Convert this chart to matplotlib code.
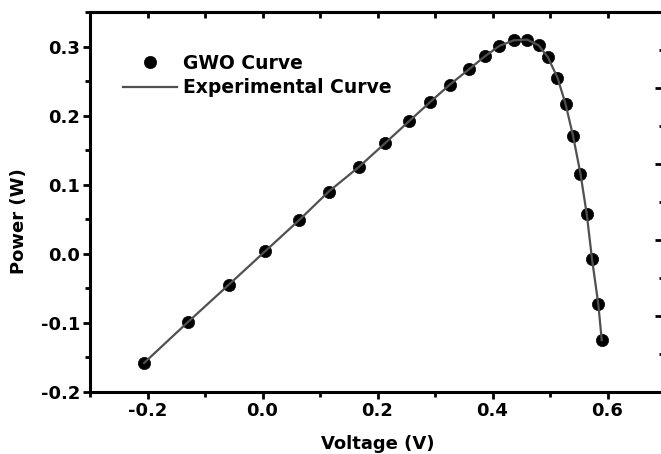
import matplotlib
matplotlib.use("Agg")
import matplotlib.pyplot as plt
from matplotlib.ticker import MultipleLocator
import numpy as np

# P-V data: GWO estimate vs. measured curve
voltage = [-0.206, -0.130, -0.059, 0.005, 0.064, 0.115, 0.168, 0.213, 0.255,
           0.292, 0.326, 0.359, 0.387, 0.412, 0.437, 0.460, 0.480, 0.496,
           0.513, 0.527, 0.540, 0.553, 0.564, 0.573, 0.584, 0.590]
power = [-0.158, -0.099, -0.045, 0.004, 0.049, 0.090, 0.126, 0.160, 0.192,
         0.220, 0.245, 0.267, 0.286, 0.301, 0.309, 0.310, 0.302, 0.285,
         0.255, 0.217, 0.171, 0.116, 0.057, -0.007, -0.073, -0.125]

exp_voltage = voltage
exp_power = power

plt.rcParams["font.family"] = "DejaVu Sans"
plt.rcParams["font.weight"] = "bold"
plt.rcParams["axes.unicode_minus"] = False

fig = plt.figure(figsize=(6.61, 4.54), dpi=100)
ax = fig.add_axes([90 / 661, 62 / 454, 575 / 661, 380 / 454])

ax.plot(voltage, power, "o", color="black", markersize=8.8, markeredgewidth=0.5,
        label="GWO Curve", zorder=2)
ax.plot(exp_voltage, exp_power, "-", color="#505050", linewidth=1.6,
        label="Experimental Curve", zorder=3)

ax.set_xlim(-0.3, 0.7)
ax.set_ylim(-0.2, 0.35)
ax.set_xticks(np.arange(-0.2, 0.61, 0.2))
ax.xaxis.set_minor_locator(MultipleLocator(0.1))
ax.set_yticks(np.arange(-0.2, 0.31, 0.1))
ax.yaxis.set_minor_locator(MultipleLocator(0.05))

for sp in ax.spines.values():
    sp.set_linewidth(2.2)
ax.spines["right"].set_visible(False)

ax.tick_params(which="major", direction="out", length=5, width=2, labelsize=13,
               right=False, top=False, pad=2)
ax.tick_params(which="minor", direction="out", length=3.5, width=2,
               right=False, top=False)

# top: ticks pointing in every 0.1 V
top = ax.secondary_xaxis("top")
top.set_xticks(np.arange(-0.2, 0.61, 0.1))
top.tick_params(direction="in", length=4, width=2, labeltop=False)
top.spines["top"].set_linewidth(2.2)
top.spines["bottom"].set_visible(False)

# right: second scale, ticks only
right = ax.secondary_yaxis("right", functions=(lambda y: (y + 0.2) / 0.11,
                                                 lambda v: v * 0.11 - 0.2))
right.set_yticks(np.arange(0, 5.1, 1))
right.yaxis.set_minor_locator(MultipleLocator(0.5))
right.tick_params(which="major", direction="in", length=7, width=2, labelright=False)
right.tick_params(which="minor", direction="in", length=4.5, width=2)
right.spines["right"].set_visible(False)
right.spines["left"].set_visible(False)

ax.set_xlabel("Voltage (V)", fontsize=13, fontweight="bold")
ax.set_ylabel("Power (W)", fontsize=13, fontweight="bold")
ax.xaxis.set_label_coords(0.5, -0.112)
ax.yaxis.set_label_coords(-0.108, 0.45)

ax.legend(loc="upper left", bbox_to_anchor=(0.057, 0.89), frameon=False,
          prop={"size": 13.5, "weight": "bold"}, handlelength=2.9,
          handletextpad=0.3, labelspacing=0.3, borderpad=0, borderaxespad=0)

fig.savefig("out.png", dpi=100)
